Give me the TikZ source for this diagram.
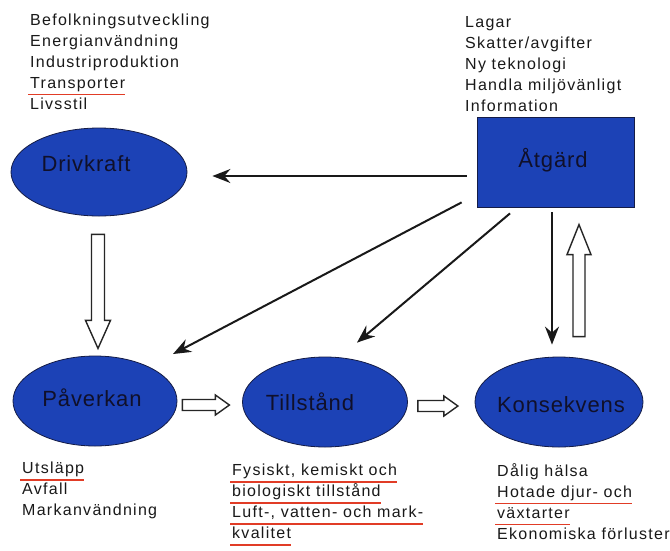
\documentclass[tikz,border=0pt]{standalone}
\usepackage{fontspec}
\setmainfont{Liberation Sans}
\newfontfamily\listfont[LetterSpace=8]{Liberation Sans}
\newfontfamily\stagefont[LetterSpace=4]{Liberation Sans}
\usetikzlibrary{shapes.geometric,arrows.meta,calc}

\definecolor{fillblue}{RGB}{28,66,182}
\definecolor{edgenavy}{RGB}{20,28,70}
\definecolor{labelink}{RGB}{16,16,42}
\definecolor{listink}{RGB}{25,25,25}
\definecolor{spellred}{RGB}{225,60,38}

\tikzset{
  stage/.style={ellipse, draw=edgenavy, line width=0.8pt, fill=fillblue, inner sep=0pt},
  actionbox/.style={rectangle, draw=edgenavy, line width=0.8pt, fill=fillblue, inner sep=0pt},
  stagetext/.style={font=\stagefont\fontsize{22}{26}\selectfont, text=labelink, inner sep=0pt},
  item/.style={font=\listfont\fontsize{16}{21}\selectfont, text=listink, inner sep=0pt, anchor=base west},
  spell/.style={draw=spellred, line width=1.6pt},
  arr/.style={draw=black!90, line width=2pt, -{Stealth[length=18pt,width=14pt,inset=6pt]}},
  hollow/.style={draw=black!85, line width=1.4pt, fill=white, line join=miter},
  pics/blockarrow/.style args={#1/#2/#3/#4}{code={
    \draw[hollow] (0,-#3) -- (#1-#2,-#3) -- (#1-#2,-#4) -- (#1,0)
      -- (#1-#2,#4) -- (#1-#2,#3) -- (0,#3) -- cycle;}}
}

\begin{document}
\begin{tikzpicture}[x=1pt,y=-1pt]
  \useasboundingbox[fill=white] (0,0) rectangle (670,550);

  % stages
  \node[stage, minimum width=176, minimum height=88] (drv) at (99,172) {};
  \node[actionbox, minimum width=157, minimum height=90] (atg) at (555.5,162) {};
  \node[stage, minimum width=164, minimum height=90] (pav) at (95,401) {};
  \node[stage, minimum width=165, minimum height=90] (til) at (325,402) {};
  \node[stage, minimum width=168, minimum height=90] (kon) at (559,402) {};

  \node[stagetext] (drvt) at (86,164) {Drivkraft};
  \node[stagetext] (atgt) at (553,160) {Åtgärd};
  \node[stagetext] (pavt) at (92,398) {Påverkan};
  \node[stagetext] (tilt) at (310,402) {Tillstånd};
  \node[stagetext] (kont) at (561,405) {Konsekvens};

  % driving forces
  \node[item] (d1) at (30,25) {Befolkningsutveckling};
  \node[item] (d2) at (30,46) {Energianvändning};
  \node[item] (d3) at (30,67) {Industriproduktion};
  \node[item] (d4) at (30,88) {Transporter};
  \node[item] (d5) at (30,109) {Livsstil};

  % measures
  \node[item] (a1) at (465,27) {Lagar};
  \node[item] (a2) at (465,48) {Skatter/avgifter};
  \node[item] (a3) at (465,69) {Ny teknologi};
  \node[item] (a4) at (465,90) {Handla miljövänligt};
  \node[item] (a5) at (465,111) {Information};

  % pressures
  \node[item] (p1) at (22,473.5) {Utsläpp};
  \node[item] (p2) at (22,494.5) {Avfall};
  \node[item] (p3) at (22,515.5) {Markanvändning};

  % state
  \node[item] (s1) at (232,475.5) {Fysiskt, kemiskt och};
  \node[item] (s2) at (232,496.5) {biologiskt tillstånd};
  \node[item] (s3) at (232,517.5) {Luft-, vatten- och mark-};
  \node[item] (s4) at (232,538.5) {kvalitet};

  % impacts
  \node[item] (k1) at (497,476) {Dålig hälsa};
  \node[item] (k2) at (497,497) {Hotade djur- och};
  \node[item] (k3) at (497,518) {växtarter};
  \node[item] (k4) at (497,539) {Ekonomiska förluster};

  % red marker lines
  \foreach \t in {d4,p1,s1,s2,s3,s4,k2,k3}
    \draw[spell] ($(\t.base west)+(-2,6.4)$) -- ($(\t.base east)+(0,6.4)$);

  % measures acting on the chain
  \draw[arr] ($(atg.west)+(-10,14)$) -- ($(drv.east)+(25,4)$);
  \draw[arr] ($(atg.south west)+(-15,-5)$) -- ($(pav.center)+(78,-47)$);
  \draw[arr] ($(atg.south)+(-45.5,6)$) -- ($(til.north)+(32,-14)$);
  \draw[arr] ($(atg.south)+(-3.5,5)$) -- ($(kon.north)+(-7,-12)$);

  % causal chain
  \pic[rotate=-90] at ($(drv.south)+(-1,18)$) {blockarrow=114/28/6.5/12.5};
  \pic at ($(pav.east)+(5,4)$) {blockarrow=47/14/5.5/10};
  \pic at ($(til.east)+(10,4)$) {blockarrow=40/14/5.5/10};
  \pic[rotate=90] at ($(kon.north)+(20,-20)$) {blockarrow=112/30/6/12};
\end{tikzpicture}
\end{document}
